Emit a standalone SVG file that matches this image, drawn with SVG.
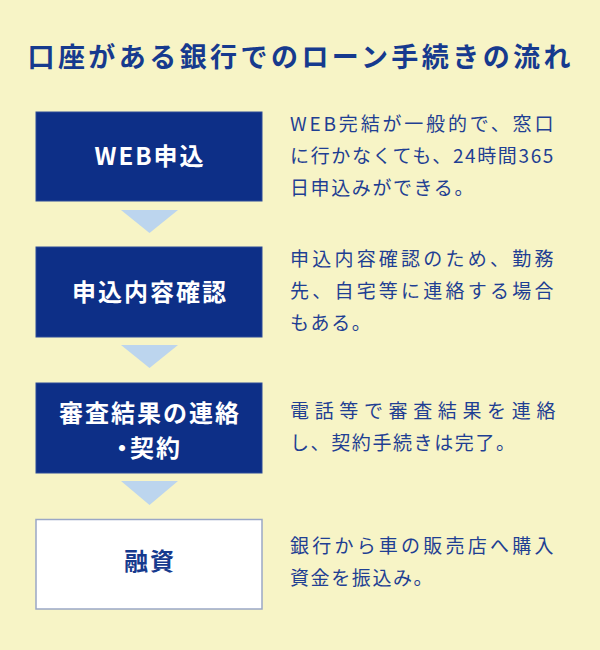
<svg xmlns="http://www.w3.org/2000/svg" width="600" height="650" viewBox="0 0 600 650">
<style>
.title{font-family:"Noto Sans CJK JP","Noto Sans",sans-serif;font-weight:bold;font-size:27px;fill:#163a8e}
.box{fill:#0d2f87;stroke:#2c4a98;stroke-width:1}
.boxw{fill:#ffffff;stroke:#9aa7c6;stroke-width:1.5}
.bt{font-family:"Noto Sans CJK JP","Noto Sans",sans-serif;font-weight:bold;font-size:24px;letter-spacing:2px;fill:#ffffff;text-anchor:middle}
.palt{font-feature-settings:"palt" 1}
.btd{fill:#163a8e}
.desc{font-family:"Noto Sans CJK JP","Noto Sans",sans-serif;font-size:19px;letter-spacing:1.6px;fill:#1f3f93}
.tri{fill:#bcd5ee}
</style>
<rect width="600" height="650" fill="#f7f4c6"/>
<text class="title" x="299" y="67" text-anchor="middle" textLength="543" lengthAdjust="spacing">口座がある銀行でのローン手続きの流れ</text>
<g id="connectors">
<polygon class="tri" points="121,210 178,210 149.5,233"/>
<polygon class="tri" points="121,345 178,345 149.5,368"/>
<polygon class="tri" points="121,481 178,481 149.5,505"/>
</g>
<g id="step1">
<rect class="box" x="36" y="112" width="226" height="89"/>
<text class="bt" x="150" y="165">WEB申込</text>
</g>
<g id="step2">
<rect class="box" x="36" y="247" width="226" height="90"/>
<text class="bt" x="150" y="301">申込内容確認</text>
</g>
<g id="step3">
<rect class="box" x="36" y="383" width="226" height="90"/>
<text class="bt" x="150" y="422">審査結果の連絡</text>
<text class="bt palt" x="149" y="457">・契約</text>
</g>
<g id="step4">
<rect class="boxw" x="36" y="519.5" width="226" height="89.5"/>
<text class="bt btd" x="150" y="570">融資</text>
</g>
<g id="desc1">
<text class="desc" x="290" y="131" textLength="265" lengthAdjust="spacing">WEB完結が一般的で、窓口</text>
<text class="desc" x="290" y="163" textLength="265" lengthAdjust="spacing">に行かなくても、24時間365</text>
<text class="desc" x="290" y="195">日申込みができる。</text>
</g>
<g id="desc2">
<text class="desc" x="290" y="266" textLength="265" lengthAdjust="spacing">申込内容確認のため、勤務</text>
<text class="desc" x="290" y="298" textLength="265" lengthAdjust="spacing">先、自宅等に連絡する場合</text>
<text class="desc" x="290" y="330">もある。</text>
</g>
<g id="desc3">
<text class="desc" x="290" y="418" textLength="267" lengthAdjust="spacing">電話等で審査結果を連絡</text>
<text class="desc" x="290" y="450">し、契約手続きは完了。</text>
</g>
<g id="desc4">
<text class="desc" x="290" y="553" textLength="265" lengthAdjust="spacing">銀行から車の販売店へ購入</text>
<text class="desc" x="290" y="585">資金を振込み。</text>
</g>
</svg>
